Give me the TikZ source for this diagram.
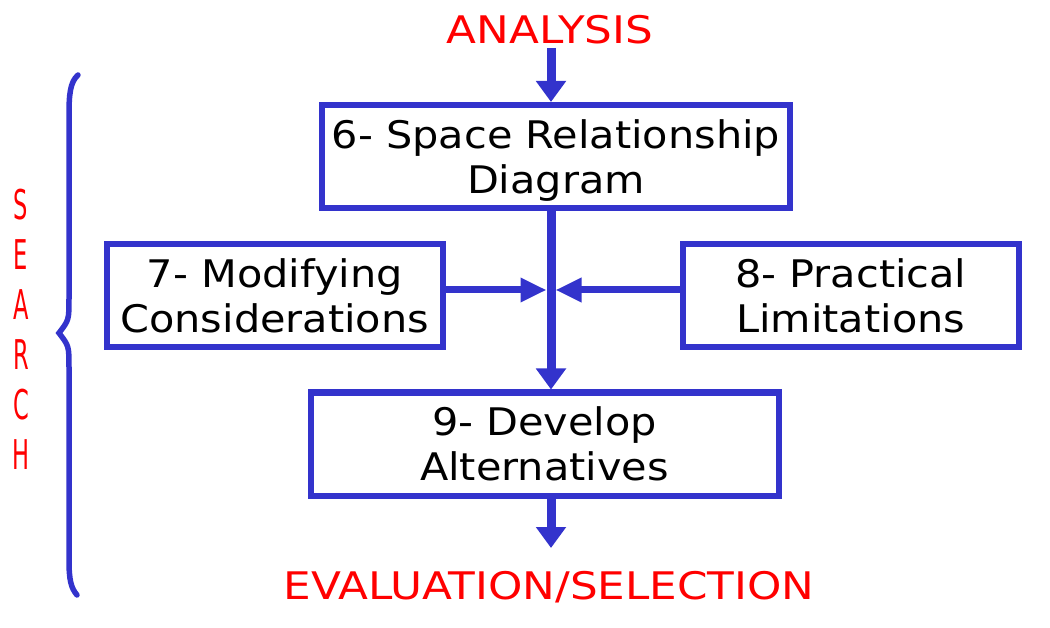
\documentclass[tikz,border=0pt]{standalone}
\usepackage{fontspec}
\setmainfont{DejaVu Sans}
\newfontfamily\boitefont[FakeStretch=1.09]{DejaVu Sans}
\newfontfamily\titrefont[FakeStretch=1.15]{DejaVu Sans}
\newfontfamily\lettrefont[FakeStretch=0.55]{DejaVu Sans}
\usetikzlibrary{positioning,arrows.meta}
\definecolor{bleu}{RGB}{51,51,204}
\definecolor{rouge}{RGB}{255,0,0}
\tikzset{
  boite/.style={
    rectangle,
    draw=bleu, line width=6pt,
    minimum height=103pt,
    inner sep=0pt,
    text depth=0pt,
    align=center,
    font=\boitefont\fontsize{38}{45}\selectfont},
  titre/.style={
    text=rouge,
    inner sep=0pt,
    font=\titrefont\fontsize{38}{45}\selectfont},
  lettre/.style={
    text=rouge,
    inner sep=0pt,
    font=\lettrefont\fontsize{41}{45}\selectfont},
  fleche/.style = {draw=bleu, line width=9pt, -{Triangle[width=29pt,length=21pt]}},
  flechecote/.style = {draw=bleu, line width=7pt, -{Triangle[width=23pt,length=26pt]}, shorten >=4.5pt},
  accolade/.style = {draw=bleu, line width=5.5pt, line cap=round},
}

\begin{document}
\begin{tikzpicture}[x=1pt,y=-1pt]
  \useasboundingbox (0,0) rectangle (1050,628);
  \node[titre](analysis) at (550,30) {ANALYSIS};
  \node[boite,minimum width=468.5pt](space) at (556,156.5) {6- Space Relationship\\Diagram};
  \node[boite,minimum width=336.5pt](modif) at (274.75,296) {7- Modifying\\Considerations};
  \node[boite,minimum width=335.5pt](limit) at (850.75,295.5) {8- Practical\\Limitations};
  \node[boite,minimum width=468pt](develop) at (544.5,444) {9- Develop\\Alternatives};
  \node[titre](evaluation) at (549,587) {EVALUATION/SELECTION};
  \coordinate (axe) at (551,48);
  \coordinate (croix) at (axe |- 0,290);
  \draw[fleche] (axe) -- (axe |- space.north);
  \draw[fleche] (axe |- space.south) -- (axe |- develop.north);
  \draw[flechecote] (modif.east |- croix) -- (croix);
  \draw[flechecote] (limit.west |- croix) -- (croix);
  \draw[fleche] (axe |- develop.south) -- (axe |- 0,548);
  % accolade SEARCH
  \draw[accolade] (78,75) .. controls (70,82) and (69,95) .. (69,115) -- (69,298)
    .. controls (69,320) .. (59,333) .. controls (69,346) .. (69,368) -- (69,560)
    .. controls (69,580) and (71,588) .. (77,595);
  \foreach \l [count=\i] in {S,E,A,R,C,H}
    \node[lettre](lettre\i) at (21,155+50*\i) {\l};
\end{tikzpicture}
\end{document}
